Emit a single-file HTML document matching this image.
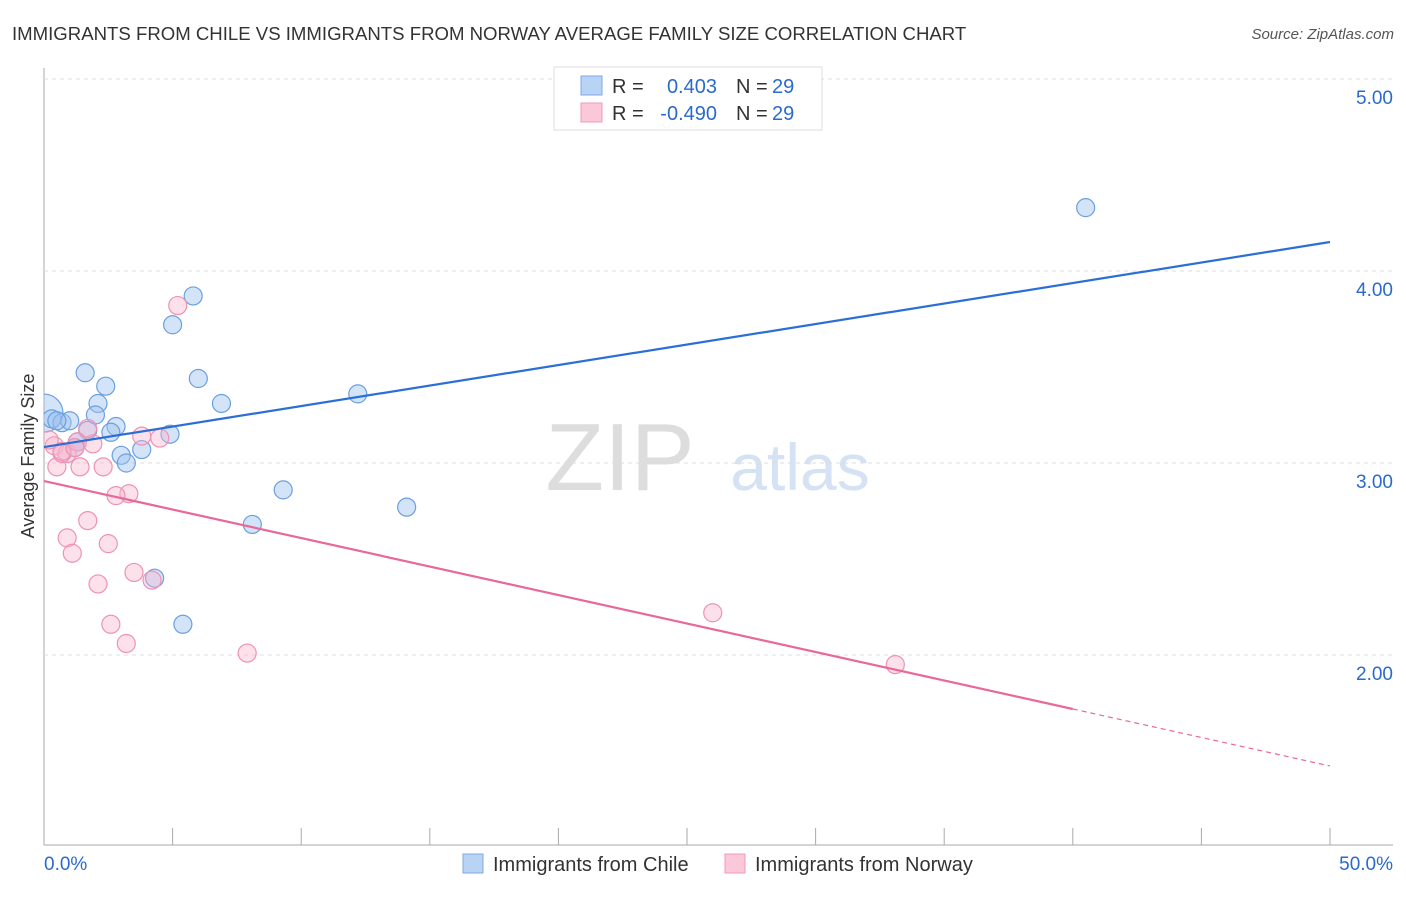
<!DOCTYPE html>
<html><head><meta charset="utf-8"><style>
body{margin:0;background:#fff;font-family:"Liberation Sans",sans-serif;}
svg text{font-family:"Liberation Sans",sans-serif;}
</style></head><body>
<svg width="1406" height="892" id="chart">
<defs><clipPath id="plotclip"><rect x="44" y="60" width="1360" height="785"/></clipPath></defs>
<text x="12" y="40" font-size="18.6" fill="#333">IMMIGRANTS FROM CHILE VS IMMIGRANTS FROM NORWAY AVERAGE FAMILY SIZE CORRELATION CHART</text>
<text x="1394" y="39" font-size="15" fill="#555" font-style="italic" text-anchor="end">Source: ZipAtlas.com</text>
<text x="620" y="490" font-size="96" fill="#ddd" font-family="Liberation Serif" text-anchor="middle">ZIP</text>
<text x="800" y="490" font-size="66" fill="#d4e2f4" text-anchor="middle">atlas</text>
<line x1="44" y1="68" x2="44" y2="845" stroke="#aaa"/>
<line x1="44" y1="845" x2="1393" y2="845" stroke="#aaa"/>
<text transform="translate(34,456) rotate(-90)" font-size="18" fill="#333" text-anchor="middle">Average Family Size</text>
<g id="grid"></g><g id="marks" clip-path="url(#plotclip)"></g>
<g>
<rect x="554" y="67" width="268" height="63" fill="#fff" stroke="#ddd"/>
<rect x="581" y="76" width="21" height="19" fill="#b9d3f5" stroke="#7faae6"/>
<rect x="581" y="103" width="21" height="19" fill="#fbc8d8" stroke="#f09ab8"/>
<text x="612" y="93" font-size="20" fill="#333">R =</text><text x="717" y="93" font-size="20" fill="#2a6acc" text-anchor="end">0.403</text>
<text x="736" y="93" font-size="20" fill="#333">N =</text><text x="772" y="93" font-size="20" fill="#2a6acc">29</text>
<text x="612" y="120" font-size="20" fill="#333">R =</text><text x="717" y="120" font-size="20" fill="#2a6acc" text-anchor="end">-0.490</text>
<text x="736" y="120" font-size="20" fill="#333">N =</text><text x="772" y="120" font-size="20" fill="#2a6acc">29</text>
</g>
<g>
<rect x="463" y="854" width="20" height="19" fill="#b9d3f5" stroke="#7faae6"/>
<text x="493" y="871" font-size="20" fill="#333">Immigrants from Chile</text>
<rect x="725" y="854" width="20" height="19" fill="#fbc8d8" stroke="#f09ab8"/>
<text x="755" y="871" font-size="20" fill="#333">Immigrants from Norway</text>
</g>
</svg>
<script>
const yTicks=[2,3,4,5];
const yTickLabels=["2.00","3.00","4.00","5.00"];
const xTicks=[0,5,10,15,20,25,30,35,40,45,50];
const chileX=[0,0.3,0.7,1.0,0.5,1.6,2.4,2.1,2.0,2.8,2.6,1.7,1.2,1.3,3.0,3.2,3.8,4.9,5.0,5.8,6.0,6.9,8.1,9.3,12.2,14.1,4.3,5.4,40.5];
const chileY=[3.26,3.23,3.21,3.22,3.22,3.47,3.40,3.31,3.25,3.19,3.16,3.17,3.08,3.11,3.04,3.00,3.07,3.15,3.72,3.87,3.44,3.31,2.68,2.86,3.36,2.77,2.40,2.16,4.33];
const norwayX=[5.2,0.4,0.5,0.9,0.7,1.3,1.9,1.4,2.3,1.7,3.3,2.8,3.8,4.5,1.7,0.9,1.1,2.5,2.1,3.5,4.2,2.6,3.2,7.9,26.0,33.1,0.2,0.7,1.2];
const norwayY=[3.82,3.09,2.98,3.05,3.05,3.11,3.10,2.98,2.98,3.18,2.84,2.83,3.14,3.13,2.70,2.61,2.53,2.58,2.37,2.43,2.39,2.16,2.06,2.01,2.22,1.95,3.12,3.06,3.08];
const chileTrend=[3.083,4.151];
const norwayTrend=[2.906,1.422];
const X=v=>44+v*25.72, Y=v=>79+(5-v)*192;
const NS="http://www.w3.org/2000/svg";
const grid=document.getElementById('grid'), marks=document.getElementById('marks');
function mk(tag,attrs,parent){const e=document.createElementNS(NS,tag);for(const k in attrs)e.setAttribute(k,attrs[k]);parent.appendChild(e);return e;}
yTicks.forEach((t,i)=>{
 const l=mk('line',{x1:44,x2:1393,y1:Y(t),y2:Y(t),stroke:'#ddd','stroke-dasharray':'4,4'},grid);
 
 
 const tx=mk('text',{x:1393,y:Y(t)+25,'font-size':19,fill:'#2a6acc','text-anchor':'end'},grid);
 tx.textContent=yTickLabels[i];
 
 
});
xTicks.forEach(t=>{
 const l=mk('line',{x1:X(t),x2:X(t),y1:828,y2:845,stroke:'#aaa'},grid);
 
 
});
const x0=mk('text',{x:44,y:870,'font-size':19,fill:'#2a6acc'},grid);x0.textContent='0.0%';


const x1=mk('text',{x:1393,y:870,'font-size':19,fill:'#2a6acc','text-anchor':'end'},grid);x1.textContent='50.0%';


chileX.forEach((x,i)=>{
 const c=mk('circle',{cx:X(x),cy:Y(chileY[i]),r:i===0?19:9,fill:'rgba(160,196,240,0.45)',stroke:'#6a9fe0','stroke-width':1.2},marks);
 
 
});
norwayX.forEach((x,i)=>{
 const c=mk('circle',{cx:X(x),cy:Y(norwayY[i]),r:9,fill:'rgba(248,180,205,0.4)',stroke:'#ee92b3','stroke-width':1.2},marks);
 
 
});
const bl=mk('line',{x1:X(0),y1:Y(chileTrend[0]),x2:X(50),y2:Y(chileTrend[1]),stroke:'#2b6fd6','stroke-width':2.2},marks);


const pAt=x=>norwayTrend[0]+(norwayTrend[1]-norwayTrend[0])*x/50;
const pl=mk('line',{x1:X(0),y1:Y(pAt(0)),x2:X(40),y2:Y(pAt(40)),stroke:'#e8689a','stroke-width':2.2},marks);


const pd=mk('line',{x1:X(40),y1:Y(pAt(40)),x2:X(50),y2:Y(pAt(50)),stroke:'#e8689a','stroke-width':1.2,'stroke-dasharray':'5,4'},marks);


</script>
</body></html>
